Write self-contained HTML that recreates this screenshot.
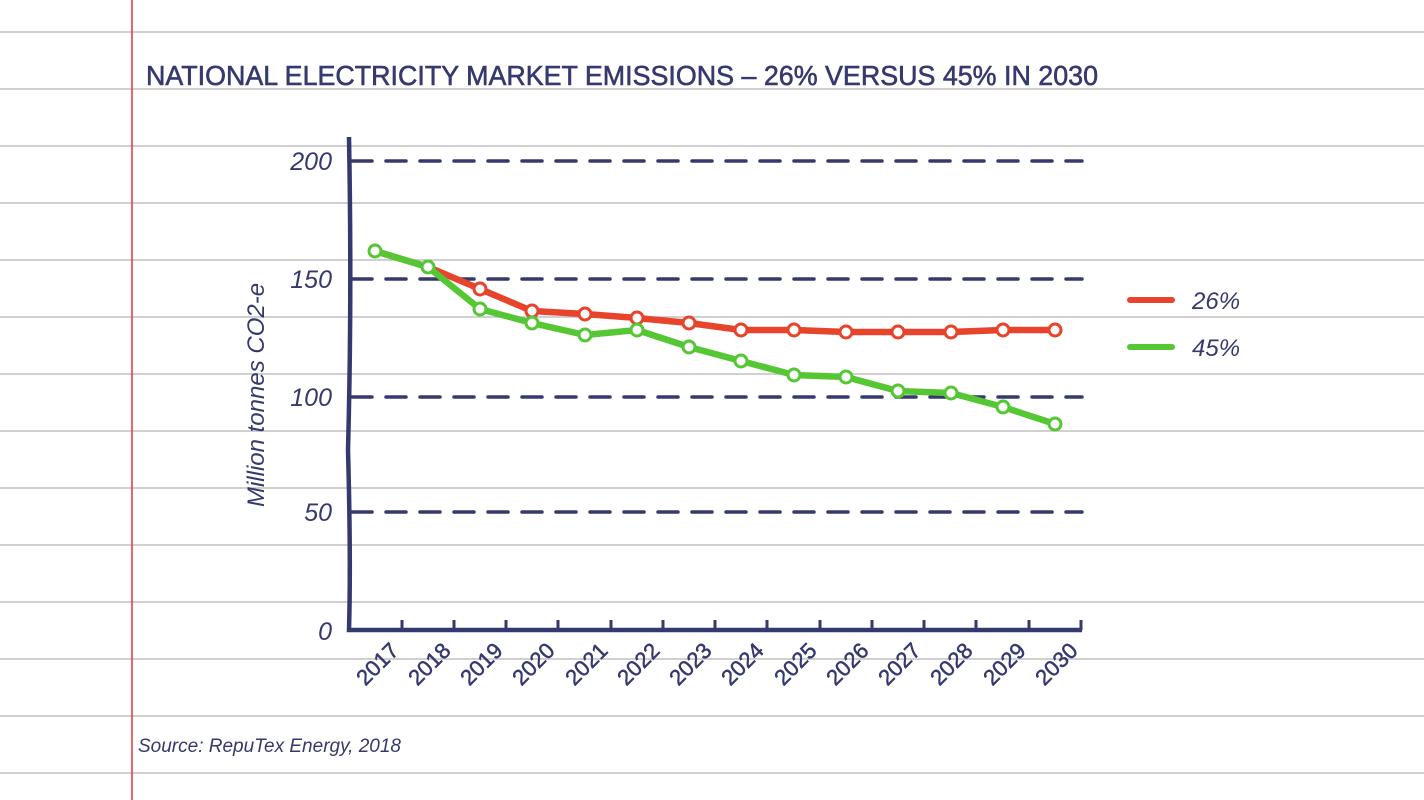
<!DOCTYPE html>
<html><head><meta charset="utf-8"><style>
body{margin:0;background:#fff;}
svg{display:block;font-family:"Liberation Sans",sans-serif;}
</style></head><body>
<svg width="1424" height="800" viewBox="0 0 1424 800">
<g stroke="#b4b4b4" stroke-width="1.3">
<line x1="0" y1="32" x2="1424" y2="32"/><line x1="0" y1="89" x2="1424" y2="89"/>
<line x1="0" y1="146" x2="1424" y2="146"/><line x1="0" y1="203" x2="1424" y2="203"/>
<line x1="0" y1="260" x2="1424" y2="260"/><line x1="0" y1="317" x2="1424" y2="317"/>
<line x1="0" y1="374" x2="1424" y2="374"/><line x1="0" y1="431" x2="1424" y2="431"/>
<line x1="0" y1="488" x2="1424" y2="488"/><line x1="0" y1="545" x2="1424" y2="545"/>
<line x1="0" y1="602" x2="1424" y2="602"/><line x1="0" y1="659" x2="1424" y2="659"/>
<line x1="0" y1="716" x2="1424" y2="716"/><line x1="0" y1="773" x2="1424" y2="773"/>
</g>
<line x1="132" y1="0" x2="132" y2="800" stroke="#e8303a" stroke-width="1.5"/>
<text x="146" y="85" font-size="28" fill="#36396e" stroke="#36396e" stroke-width="0.6" textLength="952" lengthAdjust="spacingAndGlyphs">NATIONAL ELECTRICITY MARKET EMISSIONS – 26% VERSUS 45% IN 2030</text>
<g stroke="#36396e" stroke-width="3.5" stroke-dasharray="20 14" stroke-linecap="round">
<line x1="352" y1="161" x2="1082" y2="161"/><line x1="352" y1="279" x2="1082" y2="279"/>
<line x1="352" y1="397" x2="1082" y2="397"/><line x1="352" y1="512" x2="1082" y2="512"/>
</g>
<g fill="#36396e" font-size="25" text-anchor="end" style="font-style:italic">
<text x="332" y="170">200</text><text x="332" y="288">150</text><text x="332" y="406">100</text><text x="332" y="521">50</text><text x="332" y="640">0</text>
</g>
<path d="M349 137 Q352 300 348 450 Q351 560 349 630 L1082 630" fill="none" stroke="#36396e" stroke-width="4.5"/>
<g stroke="#36396e" stroke-width="3">
<line x1="402" y1="620" x2="402" y2="630"/><line x1="454" y1="620" x2="454" y2="630"/><line x1="506" y1="620" x2="506" y2="630"/><line x1="558" y1="620" x2="558" y2="630"/><line x1="611" y1="620" x2="611" y2="630"/><line x1="663" y1="620" x2="663" y2="630"/><line x1="715" y1="620" x2="715" y2="630"/><line x1="767" y1="620" x2="767" y2="630"/><line x1="820" y1="620" x2="820" y2="630"/><line x1="872" y1="620" x2="872" y2="630"/><line x1="924" y1="620" x2="924" y2="630"/><line x1="976" y1="620" x2="976" y2="630"/><line x1="1029" y1="620" x2="1029" y2="630"/><line x1="1081" y1="620" x2="1081" y2="630"/>
</g>
<g fill="#36396e" stroke="#36396e" stroke-width="0.5" font-size="22" text-anchor="end">
<text transform="translate(400,652) rotate(-45)">2017</text>
<text transform="translate(452,652) rotate(-45)">2018</text>
<text transform="translate(504,652) rotate(-45)">2019</text>
<text transform="translate(556,652) rotate(-45)">2020</text>
<text transform="translate(609,652) rotate(-45)">2021</text>
<text transform="translate(661,652) rotate(-45)">2022</text>
<text transform="translate(713,652) rotate(-45)">2023</text>
<text transform="translate(765,652) rotate(-45)">2024</text>
<text transform="translate(818,652) rotate(-45)">2025</text>
<text transform="translate(870,652) rotate(-45)">2026</text>
<text transform="translate(922,652) rotate(-45)">2027</text>
<text transform="translate(974,652) rotate(-45)">2028</text>
<text transform="translate(1027,652) rotate(-45)">2029</text>
<text transform="translate(1079,652) rotate(-45)">2030</text>
</g>
<text transform="translate(264,395) rotate(-90)" fill="#36396e" font-size="24" text-anchor="middle" style="font-style:italic">Million tonnes CO2-e</text>
<polyline fill="none" stroke="#e8432b" stroke-width="6.5" stroke-linejoin="round" points="375,251 428,267 480,289 532,311 585,314 637,318 689,323 741,330 794,330 846,332 898,332 951,332 1003,330 1055,330"/>
<g fill="#fff" stroke="#e8432b" stroke-width="3">
<circle cx="480" cy="289" r="6"/><circle cx="532" cy="311" r="6"/><circle cx="585" cy="314" r="6"/><circle cx="637" cy="318" r="6"/><circle cx="689" cy="323" r="6"/><circle cx="741" cy="330" r="6"/><circle cx="794" cy="330" r="6"/><circle cx="846" cy="332" r="6"/><circle cx="898" cy="332" r="6"/><circle cx="951" cy="332" r="6"/><circle cx="1003" cy="330" r="6"/><circle cx="1055" cy="330" r="6"/>
</g>
<polyline fill="none" stroke="#55c734" stroke-width="6.5" stroke-linejoin="round" points="375,251 428,267 480,309 532,323 585,335 637,330 689,347 741,361 794,375 846,377 898,391 951,393 1003,407 1055,424"/>
<g fill="#fff" stroke="#55c734" stroke-width="3">
<circle cx="375" cy="251" r="6"/><circle cx="428" cy="267" r="6"/><circle cx="480" cy="309" r="6"/><circle cx="532" cy="323" r="6"/><circle cx="585" cy="335" r="6"/><circle cx="637" cy="330" r="6"/><circle cx="689" cy="347" r="6"/><circle cx="741" cy="361" r="6"/><circle cx="794" cy="375" r="6"/><circle cx="846" cy="377" r="6"/><circle cx="898" cy="391" r="6"/><circle cx="951" cy="393" r="6"/><circle cx="1003" cy="407" r="6"/><circle cx="1055" cy="424" r="6"/>
</g>
<line x1="1130" y1="300" x2="1172" y2="300" stroke="#e8432b" stroke-width="6" stroke-linecap="round"/>
<line x1="1130" y1="347" x2="1172" y2="347" stroke="#55c734" stroke-width="6" stroke-linecap="round"/>
<g fill="#36396e" font-size="24" style="font-style:italic">
<text x="1192" y="309">26%</text><text x="1192" y="356">45%</text>
</g>
<text x="138" y="752" fill="#36396e" font-size="19" style="font-style:italic">Source: RepuTex Energy, 2018</text>
</svg>
</body></html>
